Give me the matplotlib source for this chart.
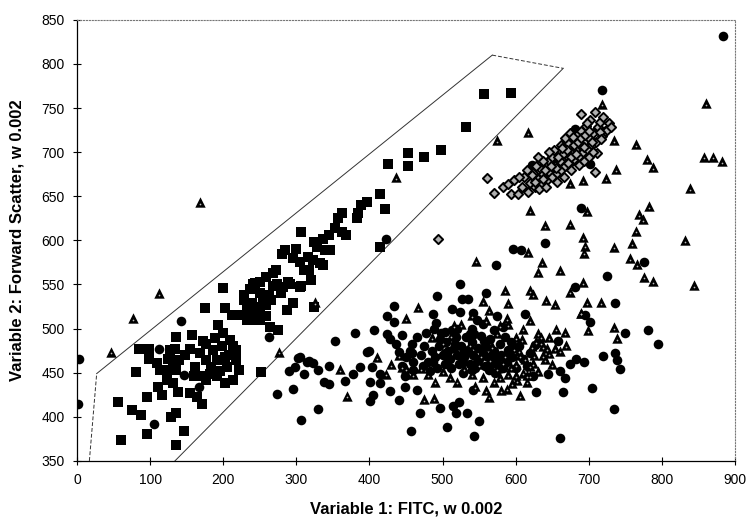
import numpy as np
import matplotlib.pyplot as plt

plt.rcParams['font.family'] = ['Liberation Sans', 'DejaVu Sans']

# gated population (squares)
sq_x = [60, 56, 75, 87, 96, 96, 81, 85, 98, 99, 109, 114, 111, 117, 135, 147, 128, 135, 138, 135,
        134, 127, 125, 132, 139, 126, 136, 123, 132, 155, 164, 171, 155, 157, 161, 168, 177, 191, 202, 214,
        168, 177, 186, 177, 191, 202, 205, 218, 221, 218, 209, 200, 193, 200, 175, 202, 212, 225, 232, 239,
        232, 241, 250, 259, 264, 275, 228, 241, 250, 259, 268, 273, 282, 291, 296, 305, 287, 250, 246, 252,
        262, 532, 453, 453, 426, 475, 498, 415, 421, 396, 389, 385, 383, 363, 357, 353, 362, 368, 345, 337,
        324, 328, 306, 346, 339, 300, 285, 280, 295, 305, 316, 323, 332, 337, 310, 318, 272, 259, 243, 250,
        289, 268, 307, 320, 415, 557, 594, 324,
        183, 196, 208, 172, 189, 213, 199, 182, 148, 160, 229, 237, 255, 266, 279, 236, 245, 258]
sq_y = [374, 417, 408, 402, 381, 422, 451, 477, 477, 465, 461, 453, 434, 425, 368, 384, 400, 404, 428, 491,
        477, 476, 466, 464, 464, 453, 453, 442, 438, 427, 423, 415, 477, 493, 457, 446, 442, 446, 438, 442,
        472, 483, 476, 464, 464, 468, 457, 464, 453, 476, 487, 495, 504, 546, 523, 523, 515, 515, 525, 529,
        510, 510, 510, 514, 502, 498, 538, 551, 540, 559, 563, 551, 547, 551, 529, 547, 521, 525, 517, 451,
        538, 729, 699, 684, 687, 694, 702, 653, 636, 644, 640, 631, 625, 631, 625, 614, 610, 606, 606, 601,
        598, 593, 609, 589, 589, 590, 589, 584, 580, 576, 581, 578, 574, 572, 566, 566, 566, 559, 552, 553,
        553, 548, 548, 555, 592, 766, 767, 525,
        456, 452, 470, 486, 489, 480, 480, 448, 470, 446, 532, 520, 535, 532, 540, 545, 520, 527]

# circles
ci_x = [142, 112, 147, 167, 106, 262, 3, 2, 273, 296, 306, 290, 302, 298, 310, 314, 422, 524,
        573, 492, 526, 535, 559, 513, 524, 487, 434, 424, 434, 406, 380, 353, 424, 428, 444, 437, 458, 491,
        503, 541, 547, 574, 397, 305, 318, 345, 323, 330, 338, 345, 330, 366, 377, 387, 399, 401, 403, 414,
        414, 405, 401, 428, 440, 440, 458, 449, 449, 460, 465, 469, 457, 496, 506, 514, 522, 519, 533, 550,
        543, 542, 540, 736, 750, 781, 794, 736, 738, 743, 719, 693, 683, 674, 661, 668, 644, 624, 628, 665,
        705, 735, 661, 702, 695, 626, 658, 613, 689, 640, 596, 607, 776, 725, 681, 718, 622, 701, 681, 884,
        470, 475, 480, 485, 490, 492, 495, 500, 503, 505, 508, 510, 512, 515, 518, 520, 522, 525, 528, 530,
        532, 535, 538, 540, 542, 545, 548, 550, 552, 555, 558, 560, 562, 565, 568, 570, 572, 575, 578, 580,
        583, 585, 588, 590, 595, 600, 605, 610, 615, 620, 460, 455, 450, 445, 465, 478, 488, 498, 520, 540,
        555, 570, 582,
        473, 487, 497, 507, 517, 527, 537, 547, 557, 567, 577, 587, 597, 483, 513, 543, 563, 593, 530, 503]
ci_y = [509, 477, 447, 434, 392, 491, 466, 415, 426, 431, 396, 452, 467, 457, 449, 462, 601, 550,
        572, 537, 533, 533, 540, 522, 519, 517, 526, 514, 507, 498, 495, 486, 494, 488, 493, 483, 483, 506,
        496, 518, 510, 514, 474, 468, 463, 458, 461, 453, 440, 437, 409, 441, 448, 456, 475, 439, 456, 448,
        438, 425, 418, 429, 419, 473, 472, 446, 434, 453, 430, 404, 384, 410, 388, 412, 417, 404, 404, 395,
        378, 430, 453, 529, 495, 498, 482, 472, 464, 454, 469, 462, 466, 460, 452, 444, 448, 446, 428, 428,
        433, 409, 376, 507, 515, 481, 486, 517, 637, 597, 590, 589, 575, 560, 547, 770, 686, 687, 726, 832,
        470, 480, 462, 475, 468, 455, 480, 470, 460, 485, 475, 465, 455, 478, 490, 470, 460, 480, 450, 468,
        490, 475, 460, 485, 470, 455, 478, 465, 492, 472, 458, 480, 468, 488, 460, 475, 450, 465, 482, 470,
        455, 490, 462, 476, 468, 455, 480, 465, 458, 472, 462, 475, 468, 458, 490, 495, 500, 495, 500, 500,
        505, 498, 502,
        458, 462, 488, 466, 482, 462, 494, 462, 486, 470, 459, 468, 478, 452, 498, 494, 453, 485, 476, 472]

# triangles
tr_x = [112, 76, 47, 168, 276, 436, 326, 546, 585, 555, 563, 466, 450, 516, 512, 579, 588, 411,
        360, 369, 423, 474, 488, 444, 564, 606, 588, 606, 615, 699, 689, 735, 739, 697, 717, 669, 654, 637,
        645, 634, 667, 624, 619, 600, 602, 782, 769, 774, 765, 759, 734, 756, 766, 776, 788, 692, 695, 694,
        674, 640, 617, 636, 631, 661, 698, 692, 674, 619, 624, 642, 654, 690, 620, 590, 718, 860, 857, 870,
        882, 839, 764, 780, 788, 737, 723, 735, 831, 844, 617, 575, 674, 692,
        470, 480, 490, 500, 510, 520, 530, 540, 545, 550, 555, 560, 565, 570, 575, 580, 585, 590, 595, 600,
        605, 610, 615, 620, 625, 630, 635, 640, 645, 650, 655, 660, 600, 590, 610, 620, 630, 575, 560, 540,
        525, 500, 485, 460, 450, 440, 430,
        568, 583, 598, 613, 628, 643, 578, 593, 608, 623, 638, 553, 538]
tr_y = [540, 512, 474, 643, 474, 672, 530, 577, 544, 531, 521, 524, 512, 504, 492, 504, 512, 468,
        454, 424, 449, 420, 421, 457, 423, 425, 432, 470, 447, 498, 518, 502, 489, 530, 530, 481, 478, 480,
        472, 491, 496, 461, 447, 447, 442, 639, 630, 624, 611, 597, 593, 580, 573, 559, 554, 604, 594, 586,
        619, 617, 587, 575, 564, 566, 633, 553, 542, 544, 539, 532, 528, 518, 634, 529, 755, 756, 695, 695,
        690, 659, 709, 692, 683, 681, 671, 714, 600, 549, 723, 714, 665, 668,
        455, 448, 440, 452, 445, 440, 455, 448, 435, 460, 445, 430, 465, 440, 455, 430, 470, 448, 438, 460,
        475, 450, 440, 458, 470, 452, 485, 465, 490, 460, 500, 475, 490, 505, 500, 510, 495, 495, 510, 515,
        505, 485, 490, 448, 455, 470, 460,
        480, 462, 478, 466, 486, 478, 445, 456, 488, 480, 470, 470, 482]

# diamonds
di_x = [494, 561, 571, 583, 590, 594, 603, 598, 608, 612, 617, 620, 624, 627, 630, 633, 636, 638, 641, 643,
        645, 647, 650, 652, 654, 656, 658, 660, 662, 664, 666, 668, 670, 672, 674, 676, 678, 680, 682, 684,
        686, 688, 690, 692, 694, 696, 698, 700, 702, 704, 706, 708, 710, 712, 715, 718, 720, 722, 725, 728,
        731, 689, 698, 715, 631, 708, 711, 640, 645, 650, 655, 660, 665, 670, 675, 680, 685, 690, 695, 700,
        662, 668, 674, 652, 646, 638, 628, 622, 615, 605, 632, 642, 656, 666, 676, 686, 694, 700, 706,
        648, 658, 671, 683, 693, 704, 716, 637, 626, 679, 663]
di_y = [601, 671, 654, 661, 664, 653, 653, 668, 660, 672, 655, 665, 676, 660, 670, 682, 664, 675, 686, 668,
        678, 692, 672, 684, 697, 676, 688, 700, 680, 692, 705, 684, 696, 710, 688, 700, 715, 692, 704, 720,
        696, 708, 724, 700, 712, 730, 704, 716, 737, 708, 722, 746, 712, 728, 734, 718, 740, 724, 725, 733,
        728, 743, 733, 723, 695, 678, 699, 680, 690, 695, 682, 690, 698, 702, 694, 708, 712, 716, 720, 724,
        708, 716, 722, 702, 700, 690, 684, 674, 680, 672, 658, 660, 666, 672, 680, 686, 690, 694, 700,
        684, 694, 688, 698, 706, 712, 715, 670, 666, 717, 705]

# gate outline
gate_x = [17, 27, 568, 665, 134]
gate_y = [350, 449, 810, 795, 350]

fig = plt.figure(figsize=(7.47, 5.22), dpi=100)
ax = fig.add_axes([0.103, 0.117, 0.881, 0.845])

ax.scatter(ci_x, ci_y, marker='o', s=48, c='black', linewidths=0, zorder=3)
ax.scatter(sq_x, sq_y, marker='s', s=44, c='black', linewidths=0, zorder=3)
ax.scatter(tr_x, tr_y, marker='^', s=56, c='black', linewidths=0, zorder=4)
ax.scatter(tr_x, np.array(tr_y) - 2, marker='o', s=1.5, c='#bbbbbb', linewidths=0, zorder=5)
ax.scatter(di_x, di_y, marker='D', s=22, facecolors='#b0b0b0', edgecolors='black',
           linewidths=1.4, zorder=6)

# gate drawn segment by segment (short edges dashed)
styles = ['--', '-', '--', '-']
for i in range(4):
    ax.plot(gate_x[i:i + 2], gate_y[i:i + 2], color='#333333', lw=0.7,
            linestyle=styles[i], dashes=(4, 2) if styles[i] == '--' else (None, None), zorder=2)

ax.set_xlim(0, 900)
ax.set_ylim(350, 850)
ax.set_xticks(range(0, 901, 100))
ax.set_yticks(range(350, 851, 50))
ax.tick_params(direction='inout', length=6, width=0.8, labelsize=10, pad=6)

for s in ['top', 'right']:
    ax.spines[s].set_linestyle(':')
    ax.spines[s].set_color('#777777')
    ax.spines[s].set_linewidth(0.8)
ax.spines['left'].set_linewidth(0.9)
ax.spines['bottom'].set_linewidth(0.9)

ax.set_xlabel('Variable 1: FITC, w 0.002', fontsize=12, fontweight='bold', labelpad=10)
ax.set_ylabel('Variable 2: Forward Scatter, w 0.002', fontsize=12, fontweight='bold', labelpad=12)

fig.savefig('out.png', dpi=100)
